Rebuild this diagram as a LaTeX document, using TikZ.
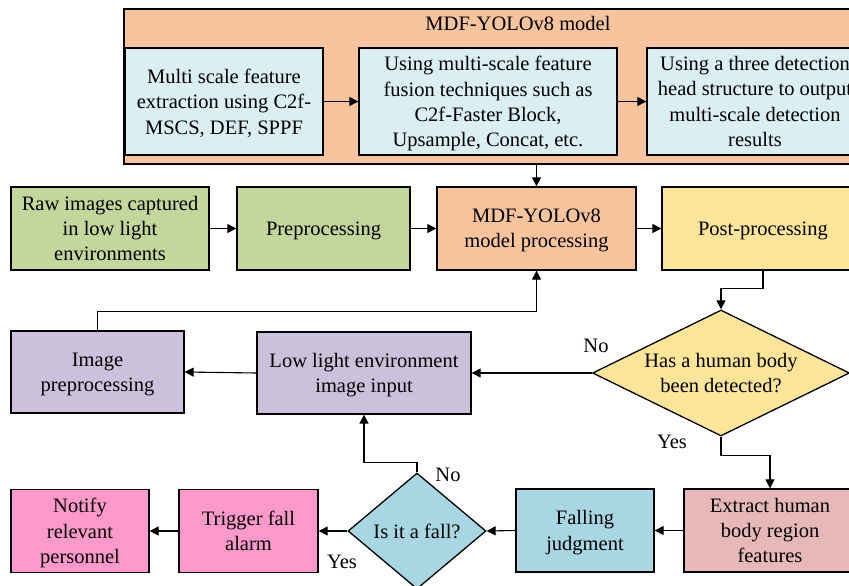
\documentclass[tikz,border=0pt]{standalone}
\usepackage{fontspec}
\setmainfont{Liberation Serif}
\usepackage{tikz}
\usetikzlibrary{arrows.meta,positioning,shapes.geometric}

\definecolor{peach}{HTML}{F8C49E}
\definecolor{paleblue}{HTML}{DAEEF3}
\definecolor{olive}{HTML}{C3D69B}
\definecolor{butter}{HTML}{FFE599}
\definecolor{lilac}{HTML}{CCC1DA}
\definecolor{rose}{HTML}{E6B9B8}
\definecolor{aqua}{HTML}{A8D7E3}
\definecolor{candy}{HTML}{FF99CC}

\begin{document}
\begin{tikzpicture}[x=1pt, y=-1pt,
  font=\fontsize{20.5}{25.3}\selectfont,
  box/.style={draw, line width=1.3pt, align=center, inner sep=0pt, text depth=0pt},
  decision/.style={draw, line width=1.3pt, diamond, inner sep=0pt},
  arr/.style={line width=1.1pt, -{Triangle[length=9pt, width=9pt]}},
  lbl/.style={inner sep=0pt}]
\path [use as bounding box, clip] (0,0) rectangle (849,586);
% model block
\node [box, fill=peach, minimum width=756pt, minimum height=155pt] (model) at (502,86.5) {};
\node [lbl] (title) at (518,23) {MDF-YOLOv8 model};
\node [box, fill=paleblue, minimum width=198pt, minimum height=107pt] (b1) at (224,101.5) {Multi scale feature\\extraction using C2f-\\MSCS, DEF, SPPF};
\node [box, fill=paleblue, minimum width=258pt, minimum height=107pt] (b2) at (488,101.5) {Using multi-scale feature\\fusion techniques such as\\C2f-Faster Block,\\Upsample, Concat, etc.};
\node [box, fill=paleblue, minimum width=216pt, minimum height=107pt] (b3) at (755,101.5) {Using a three detection\\head structure to output\\multi-scale detection\\results};
% main row
\node [box, fill=olive, minimum width=198pt, minimum height=83pt] (raw) at (110,228.5) {Raw images captured\\in low light\\environments};
\node [box, fill=olive, minimum width=173pt, minimum height=83pt] (prep) at (323.5,228.5) {Preprocessing};
\node [box, fill=peach, minimum width=199pt, minimum height=83pt] (mdf) at (536.5,228.5) {MDF-YOLOv8\\model processing};
\node [box, fill=butter, minimum width=202pt, minimum height=83pt] (post) at (763,228.5) {Post-processing};
% detection row
\node [decision, fill=butter, minimum width=257pt, minimum height=126pt] (det) at (721,373) {};
\node [lbl, align=center, text depth=0pt] (detText) at (det) {Has a human body\\been detected?};
\node [box, fill=lilac, minimum width=214pt, minimum height=82pt] (low) at (364,373) {Low light environment\\image input};
\node [box, fill=lilac, minimum width=173pt, minimum height=82pt] (imgp) at (97.5,372) {Image\\preprocessing};
% fall row
\node [box, fill=rose, minimum width=172pt, minimum height=83pt] (ext) at (770,530.5) {Extract human\\body region\\features};
\node [box, fill=aqua, minimum width=138pt, minimum height=83pt] (judge) at (585,530.5) {Falling\\judgment};
\node [decision, fill=aqua, minimum width=138pt, minimum height=116pt] (fall) at (417,531) {};
\node [lbl] (fallText) at (fall) {Is it a fall?};
\node [box, fill=candy, minimum width=139pt, minimum height=83pt] (trig) at (248.5,531) {Trigger fall\\alarm};
\node [box, fill=candy, minimum width=138pt, minimum height=83pt] (notify) at (80,531) {Notify\\relevant\\personnel};
% labels
\node [lbl] (no1) at (596,346) {No};
\node [lbl] (yes1) at (672,442) {Yes};
\node [lbl] (no2) at (448,475) {No};
\node [lbl] (yes2) at (342,562) {Yes};
% connectors
\draw [arr] (b1.east) -- (b2.west);
\draw [arr] (b2.east) -- (b3.west);
\draw [arr] (model.south -| mdf.north) -- (mdf.north);
\draw [arr] (raw) -- (prep);
\draw [arr] (prep) -- (mdf);
\draw [arr] (mdf) -- (post);
\draw [arr] (post.south) -- ++(0,18) -| (det.north);
\draw [arr] (det.west) -- (low.east);
\draw [arr] (low.west) -- (imgp.east);
\draw [arr] (imgp.north) -- ++(0,-19) -| (mdf.south);
\draw [arr] (det.south) -- ++(0,19) -| (ext.north);
\draw [arr] (ext.west) -- (judge.east);
\draw [arr] (judge.west) -- (fall.east);
\draw [arr] (fall.west) -- (trig.east);
\draw [arr] (trig.west) -- (notify.east);
\draw [arr] (fall.north) -- ++(0,-10) -| (low.south);
\end{tikzpicture}
\end{document}
